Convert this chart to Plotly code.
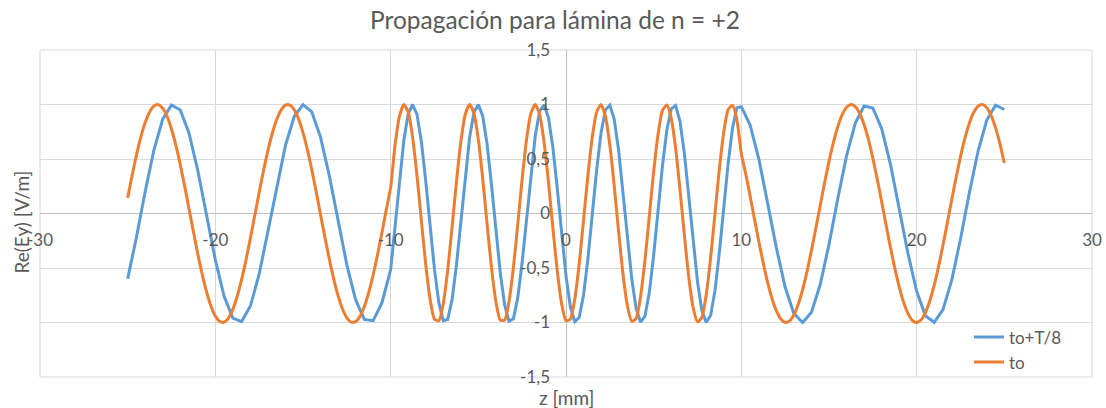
import plotly.graph_objects as go

# Sampling positions along z [mm] for the curve at t = to
z_to = [
    -25, -24.75, -24.5, -24.25, -24, -23.75, -23.5, -23.25, -23, -22.75, -22.5, -22.25,
    -22, -21.75, -21.5, -21.25, -21, -20.75, -20.5, -20.25, -20, -19.75, -19.5, -19.25,
    -19, -18.75, -18.5, -18.25, -18, -17.75, -17.5, -17.25, -17, -16.75, -16.5, -16.25,
    -16, -15.75, -15.5, -15.25, -15, -14.75, -14.5, -14.25, -14, -13.75, -13.5, -13.25,
    -13, -12.75, -12.5, -12.25, -12, -11.75, -11.5, -11.25, -11, -10.75, -10.5, -10.25,
    -10, -9.75, -9.5, -9.25, -9, -8.75, -8.5, -8.25, -8, -7.75, -7.5, -7.25,
    -7, -6.75, -6.5, -6.25, -6, -5.75, -5.5, -5.25, -5, -4.75, -4.5, -4.25,
    -4, -3.75, -3.5, -3.25, -3, -2.75, -2.5, -2.25, -2, -1.75, -1.5, -1.25,
    -1, -0.75, -0.5, -0.25, 0, 0.25, 0.5, 0.75, 1, 1.25, 1.5, 1.75,
    2, 2.25, 2.5, 2.75, 3, 3.25, 3.5, 3.75, 4, 4.25, 4.5, 4.75,
    5, 5.25, 5.5, 5.75, 6, 6.25, 6.5, 6.75, 7, 7.25, 7.5, 7.75,
    8, 8.25, 8.5, 8.75, 9, 9.25, 9.5, 9.75, 10, 10.25, 10.5, 10.75,
    11, 11.25, 11.5, 11.75, 12, 12.25, 12.5, 12.75, 13, 13.25, 13.5, 13.75,
    14, 14.25, 14.5, 14.75, 15, 15.25, 15.5, 15.75, 16, 16.25, 16.5, 16.75,
    17, 17.25, 17.5, 17.75, 18, 18.25, 18.5, 18.75, 19, 19.25, 19.5, 19.75,
    20, 20.25, 20.5, 20.75, 21, 21.25, 21.5, 21.75, 22, 22.25, 22.5, 22.75,
    23, 23.25, 23.5, 23.75, 24, 24.25, 24.5, 24.75, 25,
]

# Sampling positions along z [mm] for the curve at t = to + T/8
# (0.5 mm in free space, 0.25 mm inside the slab)
z_t8 = [
    -25, -24.5, -24, -23.5, -23, -22.5, -22, -21.5, -21, -20.5,
    -20, -19.5, -19, -18.5, -18, -17.5, -17, -16.5, -16, -15.5,
    -15, -14.5, -14, -13.5, -13, -12.5, -12, -11.5, -11, -10.5,
    -10,
    -9.75, -9.5, -9.25, -9, -8.75, -8.5, -8.25, -8, -7.75, -7.5, -7.25,
    -7, -6.75, -6.5, -6.25, -6, -5.75, -5.5, -5.25, -5, -4.75, -4.5, -4.25,
    -4, -3.75, -3.5, -3.25, -3, -2.75, -2.5, -2.25, -2, -1.75, -1.5, -1.25,
    -1, -0.75, -0.5, -0.25, 0, 0.25, 0.5, 0.75, 1, 1.25, 1.5, 1.75,
    2, 2.25, 2.5, 2.75, 3, 3.25, 3.5, 3.75, 4, 4.25, 4.5, 4.75,
    5, 5.25, 5.5, 5.75, 6, 6.25, 6.5, 6.75, 7, 7.25, 7.5, 7.75,
    8, 8.25, 8.5, 8.75, 9, 9.25, 9.5, 9.75,
    10, 10.5, 11, 11.5, 12, 12.5, 13, 13.5, 14, 14.5,
    15, 15.5, 16, 16.5, 17, 17.5, 18, 18.5, 19, 19.5,
    20, 20.5, 21, 21.5, 22, 22.5, 23, 23.5, 24, 24.5,
    25,
]

# Re(Ey) at t = to  [V/m]
ey_to = [
    # free space, z <= -10
    0.143, 0.347, 0.536, 0.701, 0.835, 0.932, 0.987, 0.999, 0.966, 0.890,
    0.775, 0.625, 0.448, 0.251, 0.042, -0.168, -0.371, -0.557, -0.719, -0.849,
    -0.941, -0.991, -0.997, -0.959, -0.878, -0.759, -0.605, -0.425, -0.226, -0.017,
    0.193, 0.394, 0.578, 0.736, 0.862, 0.949, 0.994, 0.995, 0.952, 0.866,
    0.742, 0.585, 0.402, 0.201, -0.009, -0.218, -0.418, -0.599, -0.753, -0.874,
    -0.957, -0.996, -0.992, -0.944, -0.853, -0.725, -0.564, -0.379, -0.176, 0.034,
    0.242,
    # slab, -10 < z < 10
    0.627, 0.891, 0.999, 0.932, 0.703, 0.350, -0.063, -0.466, -0.787, -0.970,
    -0.984, -0.827, -0.524, -0.130, 0.287, 0.653, 0.906, 1.000, 0.919, 0.678,
    0.319, -0.097, -0.495, -0.807, -0.978, -0.978, -0.807, -0.495, -0.097, 0.319,
    0.679, 0.919, 1.000, 0.906, 0.653, 0.287, -0.130, -0.524, -0.827, -0.984,
    -0.970, -0.787, -0.466, -0.063, 0.350, 0.703, 0.932, 0.999, 0.891, 0.627,
    0.254, -0.164, -0.553, -0.845, -0.990, -0.962, -0.765, -0.435, -0.029, 0.382,
    0.726, 0.944, 0.996, 0.875, 0.601, 0.221, -0.197, -0.580, -0.863, -0.994,
    -0.952, -0.743, -0.405, 0.004, 0.413, 0.749, 0.954, 0.993, 0.858,
    # free space, z >= 10
    0.550, 0.363, 0.160, -0.051, -0.259, -0.455, -0.632, -0.780, -0.894, -0.968,
    -0.999, -0.986, -0.929, -0.830, -0.695, -0.529, -0.339, -0.135, 0.076, 0.283,
    0.478, 0.651, 0.796, 0.905, 0.974, 1.000, 0.981, 0.919, 0.816, 0.677,
    0.507, 0.316, 0.110, -0.101, -0.307, -0.500, -0.670, -0.811, -0.916, -0.980,
    -1.000, -0.976, -0.909, -0.801, -0.658, -0.486, -0.291, -0.084, 0.126, 0.331,
    0.522, 0.689, 0.826, 0.926, 0.984, 0.999, 0.970, 0.898, 0.786, 0.639,
    0.463,
]

# Re(Ey) at t = to + T/8  [V/m]
ey_to_t8 = [
    # free space, z <= -10
    -0.599, -0.218, 0.201, 0.585, 0.866, 0.995, 0.949, 0.736, 0.394, -0.017,
    -0.425, -0.759, -0.959, -0.991, -0.849, -0.557, -0.168, 0.251, 0.625, 0.890,
    0.999, 0.932, 0.701, 0.347, -0.068, -0.471, -0.791, -0.972, -0.983, -0.821,
    -0.514,
    # slab, -10 < z < 10
    -0.107, 0.309, 0.670, 0.915, 1.000, 0.910, 0.661, 0.297, -0.120, -0.515,
    -0.820, -0.983, -0.973, -0.793, -0.475, -0.074, 0.340, 0.695, 0.928, 0.999,
    0.896, 0.635, 0.264, -0.153, -0.544, -0.839, -0.988, -0.965, -0.772, -0.445,
    -0.040, 0.372, 0.719, 0.940, 0.997, 0.880, 0.609, 0.232, -0.186, -0.572,
    -0.857, -0.993, -0.955, -0.750, -0.415, -0.006, 0.403, 0.742, 0.951, 0.994,
    0.864, 0.582, 0.199, -0.219, -0.599, -0.874, -0.996, -0.944, -0.728, -0.383,
    0.028, 0.434, 0.764, 0.961, 0.990, 0.846, 0.554, 0.165, -0.252, -0.626,
    -0.890, -0.999, -0.933, -0.704, -0.352, 0.061, 0.464, 0.786, 0.970,
    # free space, z >= 10
    0.980, 0.811, 0.500, 0.101, -0.315, -0.677, -0.919, -1.000, -0.905, -0.652,
    -0.283, 0.135, 0.529, 0.830, 0.986, 0.968, 0.780, 0.456, 0.051, -0.363,
    -0.713, -0.938, -0.998, -0.882, -0.612, -0.234, 0.185, 0.571, 0.857, 0.993,
    0.954,
]

x_ticks = [-30, -20, -10, 0, 10, 20, 30]
x_labels = ["-30", "-20", "-10", "0", "10", "20", "30"]
y_ticks = [-1.5, -1, -0.5, 0, 0.5, 1, 1.5]
y_labels = ["-1,5", "-1", "-0,5", "0", "0,5", "1", "1,5"]

TEXT = "#595959"
GRID = "#d9d9d9"
AXIS = "#bfbfbf"
FONT = "Lato, 'Open Sans', sans-serif"

fig = go.Figure()
fig.add_trace(go.Scatter(
    x=z_t8, y=ey_to_t8, mode="lines", name="to+T/8",
    line=dict(color="#5B9BD5", width=3),
))
fig.add_trace(go.Scatter(
    x=z_to, y=ey_to, mode="lines", name="to",
    line=dict(color="#ED7D31", width=3, shape="spline", smoothing=0.6),
))

fig.update_layout(
    width=1106, height=408,
    margin=dict(l=40, r=14, t=50, b=31),
    paper_bgcolor="white", plot_bgcolor="white",
    separators=", ",
    font=dict(family=FONT, color=TEXT, size=17),
    title=dict(
        text="Propagación para lámina de n = +2",
        x=0.5018, xref="container", xanchor="center",
        y=1 - 20 / 408, yref="container", yanchor="middle",
        font=dict(family=FONT, size=24.5, color=TEXT),
    ),
    showlegend=True,
    legend=dict(
        x=0.883, y=0.176, xanchor="left", yanchor="top",
        bgcolor="rgba(0,0,0,0)", font=dict(size=17, color=TEXT),
        traceorder="normal",
    ),
    xaxis=dict(
        range=[-30, 30], tickvals=x_ticks, ticktext=x_labels,
        anchor="free", position=0.5, automargin=False,
        showgrid=True, gridcolor=GRID, gridwidth=1,
        zeroline=True, zerolinecolor=AXIS, zerolinewidth=1,
        showline=False, ticks="", ticklabelstandoff=14,
        tickfont=dict(size=17, color=TEXT),
    ),
    yaxis=dict(
        range=[-1.5, 1.5], tickvals=y_ticks, ticktext=y_labels,
        anchor="free", position=0.5, automargin=False,
        showgrid=True, gridcolor=GRID, gridwidth=1,
        zeroline=True, zerolinecolor=AXIS, zerolinewidth=1,
        showline=False, ticks="", ticklabelstandoff=16,
        tickfont=dict(size=17, color=TEXT),
    ),
    shapes=[dict(
        type="rect", xref="paper", yref="paper", x0=0, y0=0, x1=1, y1=1,
        line=dict(color=GRID, width=1), layer="below",
    )],
    annotations=[
        dict(text="Re(Ey) [V/m]", xref="paper", yref="paper",
             x=-0.0185, y=0.474, xanchor="center", yanchor="middle",
             textangle=-90, showarrow=False,
             font=dict(family=FONT, size=19, color=TEXT)),
        dict(text="z [mm]", xref="paper", yref="paper",
             x=0.5, y=-0.064, xanchor="center", yanchor="middle",
             showarrow=False, font=dict(family=FONT, size=19, color=TEXT)),
    ],
)

fig.write_html("out.html")
